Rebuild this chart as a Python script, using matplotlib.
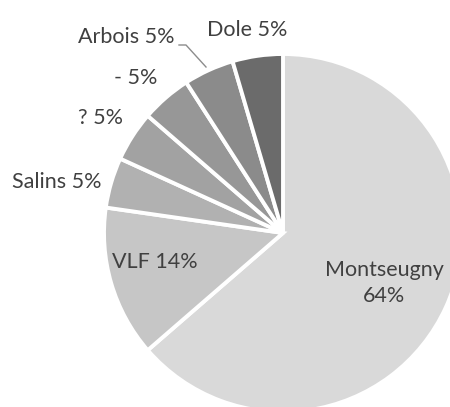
import matplotlib
matplotlib.use("Agg")
import matplotlib.pyplot as plt

# Data
categories = ["Montseugny", "VLF", "Salins", "?", "-", "Arbois", "Dole"]
counts = [14, 3, 1, 1, 1, 1, 1]
colors = ["#d9d9d9", "#c6c6c6", "#b1b1b1", "#a2a2a2", "#979797", "#8b8b8b", "#6b6b6b"]

total = sum(counts)
labels = [f"{c} {round(100 * v / total)}%" for c, v in zip(categories, counts)]
labels[0] = f"{categories[0]}\n{round(100 * counts[0] / total)}%"

W, H = 450, 407
fig = plt.figure(figsize=(W / 100, H / 100), dpi=100)
ax = fig.add_axes([0, 0, 1, 1])
plt.rcParams['font.family'] = ['Lato', 'DejaVu Sans']

cx, cy, R = 283, H - 233, 179

wedges, _ = ax.pie(counts, colors=colors, startangle=90, counterclock=False,
                   center=(cx, cy), radius=R,
                   wedgeprops=dict(edgecolor="white", linewidth=2.8))

ax.set_xlim(0, W)
ax.set_ylim(0, H)
ax.set_aspect('equal', adjustable='box')
ax.axis('off')

txt_color = "#404040"
fs = 15.5
# label anchor positions (pixel coords, y from top)
pos = [(384, 283, 'center'), (155, 262, 'center'), (101, 182, 'right'),
       (123, 118, 'right'), (157, 78, 'right'), (175, 37, 'right'),
       (247, 30, 'center')]
for lab, (x, y, ha) in zip(labels, pos):
    ax.text(x, H - y, lab, ha=ha, va='center', fontsize=fs, color=txt_color,
            linespacing=1.4)

# leader line for Arbois
ax.plot([179, 186, 206], [H - 45, H - 45, H - 67], color="#8c8c8c", lw=1)

fig.savefig("out.png", dpi=100, facecolor="white")
